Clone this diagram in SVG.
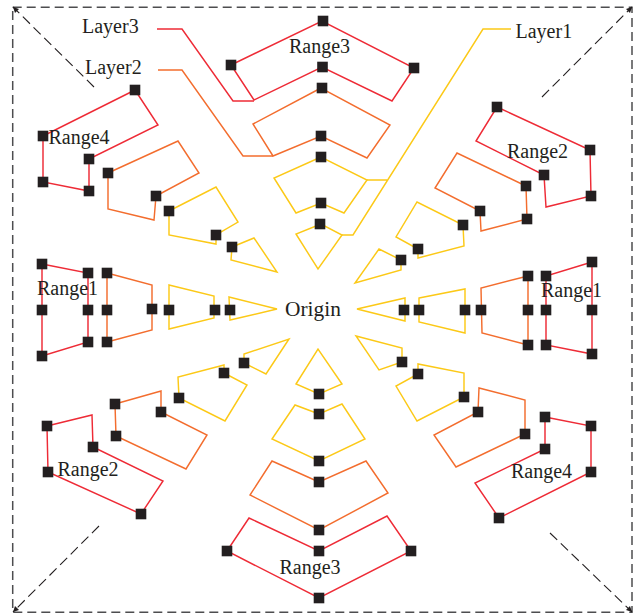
<svg xmlns="http://www.w3.org/2000/svg" width="636" height="614" viewBox="0 0 636 614">
<style>
.r{fill:none;stroke:#ee2b36;stroke-width:1.45;stroke-linejoin:miter}
.o{fill:none;stroke:#f36d2e;stroke-width:1.45;stroke-linejoin:miter}
.y{fill:none;stroke:#fcc917;stroke-width:1.45;stroke-linejoin:miter}
.s{fill:#231f20}
.f{fill:none;stroke:#4d4d4f;stroke-width:1.5;stroke-dasharray:9 5}
.d{fill:none;stroke:#231f20;stroke-width:1.1;stroke-dasharray:10 5}
text{font-family:"Liberation Serif","Times New Roman",serif;font-size:20px;fill:#231f20}
</style>
<defs>
<rect id="q" class="s" x="-5.3" y="-5.3" width="10.6" height="10.6"/>
</defs>
<g id="frame">
<rect class="f" x="12.7" y="7.3" width="619.3" height="605"/>
<path class="d" d="M94 87L13 7M542 97L632 7M99 526L13 612M550 533L632 612"/>
<path class="s" d="M13 7L19 9L15 13ZM632 7L626 9L630 13ZM13 612L15 606L19 610ZM632 612L630 606L626 610Z"/>
</g>
<g id="connectors">
<path class="r" d="M157 29H182L233 101H254"/>
<path class="o" d="M158 70H182L243 156H273"/>
<path class="y" d="M511 29H483L353 235H342M387 180H367"/>
</g>
<g id="range3-top">
<path class="r" d="M231 65L322 21L414 68L392 101L322 67L254 100Z"/>
<path class="o" d="M321 88L253 124L273 156L321 136L367 158L390 125Z"/>
<path class="y" d="M321 157L274 178L296 213L321 203L344 213L367 180Z"/>
<path class="y" d="M321 224L296 234L318 269L342 235Z"/>
<use href="#q" x="323" y="21"/><use href="#q" x="231" y="65"/><use href="#q" x="414" y="68"/><use href="#q" x="322.500" y="67"/><use href="#q" x="322" y="88"/><use href="#q" x="321" y="136"/><use href="#q" x="321" y="157"/><use href="#q" x="321" y="203"/><use href="#q" x="320" y="224"/>
</g>
<g id="range4-upper-left">
<path class="r" d="M135 90L43 136V182L89 191V159L158 125Z"/>
<path class="o" d="M108 173L178 141L199 173L156 196L154 220L108 209Z"/>
<path class="y" d="M169 211L216 187L238 222L216 235V244L169 235Z"/>
<path class="y" d="M232 247L254 238L277 272L231 260Z"/>
<use href="#q" x="135" y="90"/><use href="#q" x="43" y="136"/><use href="#q" x="89" y="159"/><use href="#q" x="43" y="182"/><use href="#q" x="89" y="191"/><use href="#q" x="108" y="173"/><use href="#q" x="156" y="196"/><use href="#q" x="169" y="211"/><use href="#q" x="216" y="235"/><use href="#q" x="232" y="247"/>
</g>
<g id="range1-left">
<path class="r" d="M42 264L88 273V342L42 356Z"/>
<path class="o" d="M107 273L152 285V330L107 342Z"/>
<path class="y" d="M169 285L214 296V318L169 329Z"/>
<path class="y" d="M229 297L277 309L230 320Z"/>
<use href="#q" x="42" y="264"/><use href="#q" x="88" y="273"/><use href="#q" x="42" y="310"/><use href="#q" x="88" y="310"/><use href="#q" x="88" y="342"/><use href="#q" x="42" y="356"/><use href="#q" x="107" y="273"/><use href="#q" x="107" y="310"/><use href="#q" x="152" y="309"/><use href="#q" x="107" y="342"/><use href="#q" x="169" y="310"/><use href="#q" x="215" y="310"/><use href="#q" x="230" y="310"/>
</g>
<g id="range1-right">
<path class="r" d="M592 262L546 276V345L592 354Z"/>
<path class="o" d="M528 276L481 288L482 333L528 345Z"/>
<path class="y" d="M419 298L465 289V333L419 322Z"/>
<path class="y" d="M357 309L405 298V321Z"/>
<use href="#q" x="592" y="262"/><use href="#q" x="546" y="276"/><use href="#q" x="592" y="310"/><use href="#q" x="546" y="310"/><use href="#q" x="546" y="345"/><use href="#q" x="592" y="354"/><use href="#q" x="528" y="276"/><use href="#q" x="528" y="310"/><use href="#q" x="528" y="345"/><use href="#q" x="481" y="310"/><use href="#q" x="465" y="310"/><use href="#q" x="419" y="310"/><use href="#q" x="404" y="310"/>
</g>
<g id="range2-upper-right">
<path class="r" d="M497 107L590 150L591 196L546 207L544 175L476 141Z"/>
<path class="o" d="M526 186L527 219L481 231L480 211L435 188L457 153Z"/>
<path class="y" d="M463 225L464 246L418 258V249L396 237L417 202Z"/>
<path class="y" d="M401 260V270L355 283L379 249Z"/>
<use href="#q" x="497" y="107"/><use href="#q" x="590" y="150"/><use href="#q" x="544" y="175"/><use href="#q" x="591" y="196"/><use href="#q" x="526" y="186"/><use href="#q" x="527" y="219"/><use href="#q" x="480" y="211"/><use href="#q" x="463" y="225"/><use href="#q" x="418" y="249"/><use href="#q" x="401" y="260"/>
</g>
<g id="range2-lower-left">
<path class="r" d="M47 426L92 415L93 447L163 481L141 514L48 472Z"/>
<path class="o" d="M115 404L161 391V412L207 435L186 469L116 436Z"/>
<path class="y" d="M179 398L178 377L224 365V373L247 385L225 421Z"/>
<path class="y" d="M244 363V354L289 339L266 374Z"/>
<use href="#q" x="47" y="426"/><use href="#q" x="48" y="472"/><use href="#q" x="93" y="447"/><use href="#q" x="141" y="514"/><use href="#q" x="115" y="404"/><use href="#q" x="116" y="436"/><use href="#q" x="161" y="412"/><use href="#q" x="179" y="398"/><use href="#q" x="224" y="373"/><use href="#q" x="244" y="363"/>
</g>
<g id="range3-bottom">
<path class="r" d="M227 551L249 518L319 551L387 516L411 551L319 598Z"/>
<path class="o" d="M319 482L272 461L250 495L319 530L388 493L366 461Z"/>
<path class="y" d="M319 414L295 405L272 439L319 461L365 439L342 404Z"/>
<path class="y" d="M319 394L296 384L318 349L342 384Z"/>
<use href="#q" x="227" y="551"/><use href="#q" x="319" y="551"/><use href="#q" x="319" y="598"/><use href="#q" x="411" y="551"/><use href="#q" x="319" y="530"/><use href="#q" x="319" y="482"/><use href="#q" x="319" y="461"/><use href="#q" x="319" y="414"/><use href="#q" x="319" y="394"/>
</g>
<g id="range4-lower-right">
<path class="r" d="M545 417L591 426V472L499 518L475 483L545 449Z"/>
<path class="o" d="M478 412L479 388L525 400V434L456 467L434 435Z"/>
<path class="y" d="M418 374V364L464 373V397L417 421L396 386Z"/>
<path class="y" d="M402 362V348L356 336L379 370Z"/>
<use href="#q" x="545" y="417"/><use href="#q" x="591" y="426"/><use href="#q" x="591" y="472"/><use href="#q" x="545" y="449"/><use href="#q" x="499" y="518"/><use href="#q" x="478" y="412"/><use href="#q" x="525" y="434"/><use href="#q" x="464" y="397"/><use href="#q" x="418" y="374"/><use href="#q" x="402" y="362"/>
</g>
<g id="labels">
<text x="82" y="33">Layer3</text>
<text x="85" y="74">Layer2</text>
<text x="515.500" y="38">Layer1</text>
<text x="289" y="53">Range3</text>
<text x="48.500" y="144">Range4</text>
<text x="507" y="158">Range2</text>
<text x="37" y="295">Range1</text>
<text x="541" y="297">Range1</text>
<text x="285" y="316" font-size="21" style="font-size:21.400px">Origin</text>
<text x="57.500" y="476">Range2</text>
<text x="511" y="478">Range4</text>
<text x="279.500" y="574">Range3</text>
</g>
</svg>
